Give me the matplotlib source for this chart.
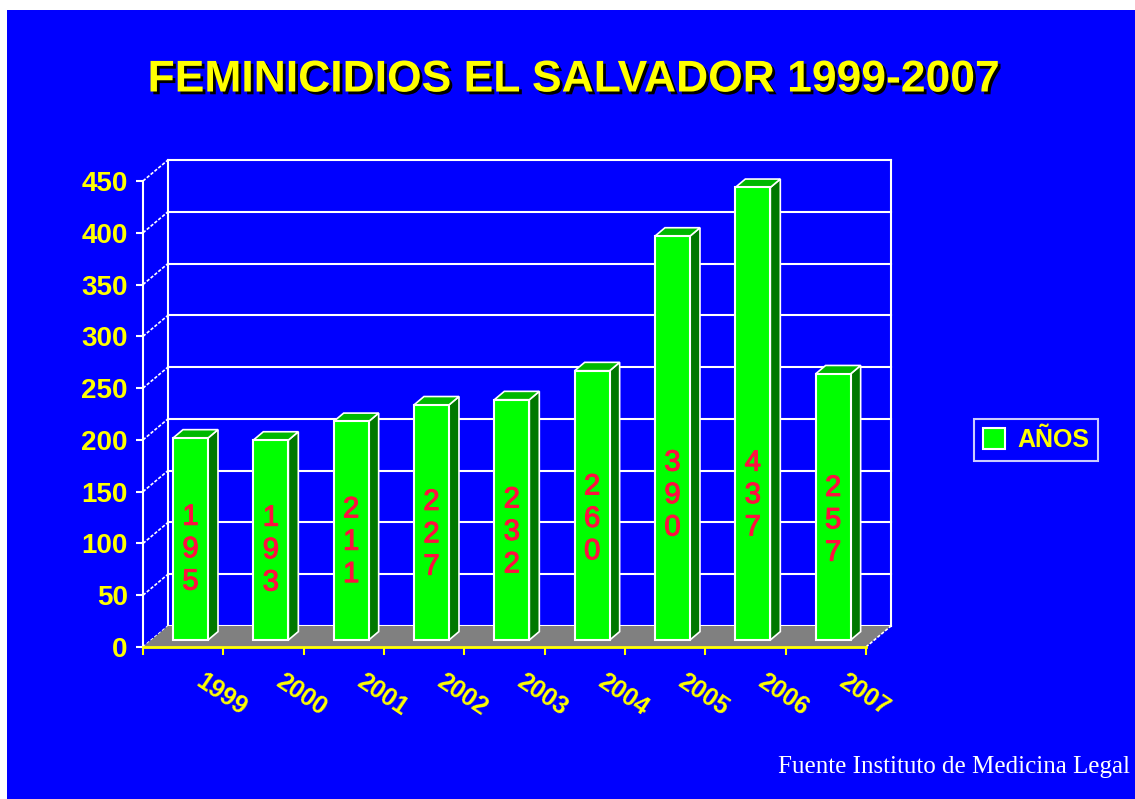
"""Feminicidios El Salvador 1999-2007, pseudo-3D column chart."""

import matplotlib

matplotlib.use("Agg")
import matplotlib.pyplot as plt  # noqa: E402
import matplotlib.patheffects as pe  # noqa: E402
from matplotlib.patches import Polygon, Rectangle  # noqa: E402

years = ["1999", "2000", "2001", "2002", "2003", "2004", "2005", "2006", "2007"]
counts = [195, 193, 211, 227, 232, 260, 390, 437, 257]
yticks = [0, 50, 100, 150, 200, 250, 300, 350, 400, 450]

title = "FEMINICIDIOS EL SALVADOR 1999-2007"
series_name = "AÑOS"
source = "Fuente Instituto de Medicina Legal"

BLUE = "#0000FF"
YELLOW = "#FFFF00"
GREEN = "#00FF00"
GREEN_SIDE = "#007800"
GREEN_TOP = "#00B800"
RED = "#FF1040"

W, H = 1135, 799
fig = plt.figure(figsize=(W / 100, H / 100), dpi=100, facecolor="white")
fig.patches.append(Rectangle((7 / W, 0), 1 - 7 / W, 1 - 10 / H, transform=fig.transFigure,
                             facecolor=BLUE, edgecolor="none", zorder=-10))

# front plane geometry (pixels)
px_cat, px_val = 80.33, 1.0356
x0, y0 = 143, 647
XMAX, YMAX = 9.5, 480
ax = fig.add_axes([x0 / W, (H - y0) / H, XMAX * px_cat / W, YMAX * px_val / H])
ax.set_facecolor("none")
ax.set_xlim(0, XMAX)
ax.set_ylim(0, YMAX)

# depth of the box
DX, DY = 25 / px_cat, 21 / px_val
n = len(years)
ymax = yticks[-1]

# floor
ax.add_patch(Polygon([(0, 0), (n, 0), (n + DX, DY), (DX, DY)], closed=True,
                     facecolor="#808080", edgecolor="none", zorder=1))
ax.plot([n, n + DX], [0, DY], color="white", lw=1.2, ls=(0, (2, 1)), zorder=1)

# back wall + side wall lines
for v in yticks:
    ax.plot([DX, n + DX], [v + DY, v + DY], color="white", lw=1.5, zorder=0.5)
    ax.plot([0, DX], [v, v + DY], color="white", lw=1.2, ls=(0, (2, 1)), zorder=0.5)
ax.plot([DX, DX], [DY, ymax + DY], color="white", lw=1.5, zorder=0.5)
ax.plot([n + DX, n + DX], [DY, ymax + DY], color="white", lw=1.5, zorder=0.5)

# bars: front faces through ax.bar, side/top faces from the same geometry
depth0, depth = 1 / 3, 0.4
base = depth0 * DY
bw = 35 / px_cat
off = 30 / px_cat
lefts = [i + off for i in range(n)]
bars = ax.bar(lefts, counts, width=bw, bottom=base, align="edge", color=GREEN,
              edgecolor="white", linewidth=1.5, zorder=3, label=series_name)
ddx, ddy = depth * DX, depth * DY
for b, v in zip(bars, counts):
    xl, xr = b.get_x(), b.get_x() + b.get_width()
    top = base + v
    ax.add_patch(Polygon([(xr, base), (xr + ddx, base + ddy), (xr + ddx, top + ddy), (xr, top)],
                         closed=True, facecolor=GREEN_SIDE, edgecolor="white", lw=1.2, zorder=2.9))
    ax.add_patch(Polygon([(xl, top), (xr, top), (xr + ddx, top + ddy), (xl + ddx, top + ddy)],
                         closed=True, facecolor=GREEN_TOP, edgecolor="white", lw=1.2, zorder=2.9))
    ax.text(xl + bw / 2, base + min(0.45 * v, 140), "\n".join(str(v)), ha="center", va="center",
            color=RED, fontsize=21, family="Liberation Sans", linespacing=1.2, zorder=4,
            path_effects=[pe.withStroke(linewidth=0.8, foreground=RED)])

# axes
for s in ["top", "right"]:
    ax.spines[s].set_visible(False)
ax.spines["left"].set_bounds(0, ymax)
ax.spines["left"].set_color("white")
ax.spines["left"].set_linewidth(1.5)
ax.spines["bottom"].set_bounds(0, n)
ax.spines["bottom"].set_color(YELLOW)
ax.spines["bottom"].set_linewidth(2)
ax.spines["bottom"].set_zorder(5)

ax.set_yticks(yticks)
ax.set_yticklabels([str(v) for v in yticks], color=YELLOW, fontsize=20, fontweight="bold",
                   family="Liberation Sans")
ax.tick_params(axis="y", colors="white", length=5, width=1.5, pad=6, labelcolor=YELLOW)

ax.set_xticks(range(n + 1))
ax.set_xticklabels([])
ax.set_xticks([i + 0.77 for i in range(n)], minor=True)
ax.set_xticklabels(years, minor=True, color=YELLOW, fontsize=18, fontweight="bold",
                   family="Liberation Sans", rotation=-34, ha="left", rotation_mode="anchor")
ax.tick_params(axis="x", which="major", colors=YELLOW, length=6, width=1.5, direction="out")
ax.tick_params(axis="x", which="minor", length=0, pad=16)

# legend
leg = fig.legend(handles=[bars], labels=[series_name], loc="center",
                 bbox_to_anchor=(1036 / W, 1 - 440 / H), frameon=True, fancybox=False,
                 facecolor=BLUE, edgecolor="white", handlelength=0.9, handleheight=0.9,
                 handletextpad=0.5, borderpad=0.35,
                 prop={"family": "Liberation Sans", "weight": "bold", "size": 18})
leg.get_frame().set_linewidth(1.5)
for t in leg.get_texts():
    t.set_color(YELLOW)

# title and source
fig.text(574 / W, 1 - 80 / H, title, ha="center", va="center", color=YELLOW, fontsize=32,
         fontweight="bold", family="Liberation Sans",
         path_effects=[pe.withSimplePatchShadow(offset=(2, -2), shadow_rgbFace="black", alpha=1)])
fig.text(1130 / W, 1 - 767 / H, source, ha="right", va="center", color="white", fontsize=18,
         family="Liberation Serif")

fig.savefig("out.png", dpi=100, facecolor=fig.get_facecolor())
